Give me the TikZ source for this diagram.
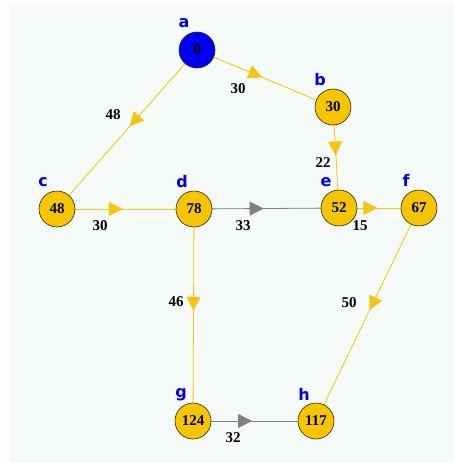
\documentclass[tikz,border=0pt]{standalone}
\usepackage{fontspec}
\setmainfont{Liberation Serif}
\newfontfamily\labfont{DejaVu Sans}
\usetikzlibrary{arrows.meta,decorations.markings,backgrounds}
\definecolor{bg}{RGB}{246,250,247}
\definecolor{ny}{RGB}{245,197,0}
\definecolor{nb}{RGB}{0,0,238}
\definecolor{eg}{RGB}{128,128,128}
\definecolor{ey}{RGB}{245,197,20}
\begin{document}
\begin{tikzpicture}[x=1pt,y=-1pt,
 vert/.style={circle,draw=black!85,line width=0.6pt,fill=ny,minimum size=36pt,inner sep=0pt,font=\bfseries\fontsize{15}{15}\selectfont},
 lab/.style={text=nb,font=\labfont\bfseries\fontsize{16}{16}\selectfont},
 wt/.style={font=\bfseries\fontsize{15}{15}\selectfont},
 wedge/.style={line width=0.8pt, postaction={decorate}, decoration={markings, mark=at position 0.48 with {\arrow{Triangle[length=14pt,width=14pt]}}}},
 ye/.style={wedge,draw=ey,fill=ey}, ge/.style={wedge,draw=eg,fill=eg}]
\useasboundingbox (0,0) rectangle (454,463);
\node[vert,fill=nb] (a) at (197,50) {0};
\node[vert] (b) at (333,107) {30};
\node[vert] (c) at (57,209) {48};
\node[vert] (d) at (194,209) {78};
\node[vert] (e) at (339,208) {52};
\node[vert] (f) at (419,208) {67};
\node[vert] (g) at (193,421) {124};
\node[vert] (h) at (316,421) {117};
\begin{pgfonlayer}{background}
\fill[bg] (9,5) rectangle (454,463);
\draw[ye] (a.center) -- (b.center);
\draw[ye] (a.center) -- (c.center);
\draw[ye] (b.center) -- (e.center);
\draw[ye] (c.center) -- (d.center);
\draw[ge] (d.center) -- (e.center);
\draw[ye] (e.center) -- (f.center);
\draw[ye] (d.center) -- (g.center);
\draw[ye] (f.center) -- (h.center);
\draw[ge] (g.center) -- (h.center);
\end{pgfonlayer}
\node[lab] (la) at (184,23) {a};
\node[lab] (lb) at (320,80) {b};
\node[lab] (lc) at (43,182) {c};
\node[lab] (ld) at (182,182) {d};
\node[lab] (le) at (326,182) {e};
\node[lab] (lf) at (406,180) {f};
\node[lab] (lg) at (181,395) {g};
\node[lab] (lh) at (304,394) {h};
\node[wt] (w1) at (238,89) {30};
\node[wt] (w2) at (113,115) {48};
\node[wt] (w3) at (323,163) {22};
\node[wt] (w4) at (100,226) {30};
\node[wt] (w5) at (243,226) {33};
\node[wt] (w6) at (360,226) {15};
\node[wt] (w7) at (176,302) {46};
\node[wt] (w8) at (349,303) {50};
\node[wt] (w9) at (233,438) {32};
\end{tikzpicture}
\end{document}
